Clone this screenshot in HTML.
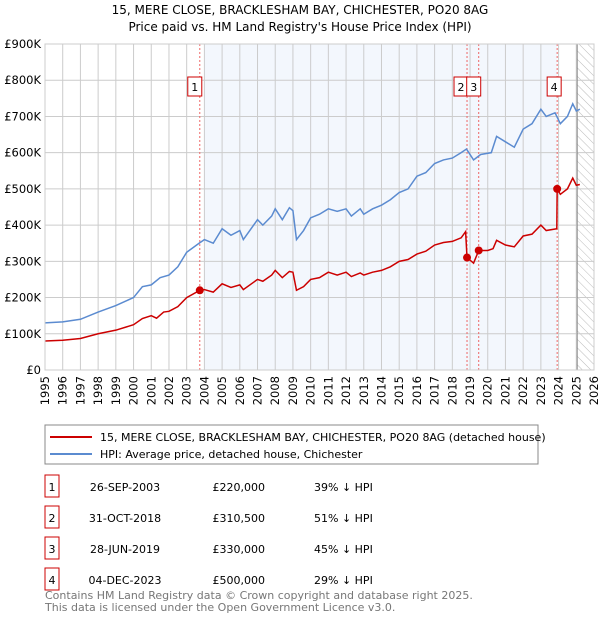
<!DOCTYPE html>
<html><head><meta charset="utf-8"><style>
body{margin:0;width:600px;height:620px;background:#fff;font-family:"Liberation Sans","DejaVu Sans",sans-serif;overflow:hidden}
svg text{font-family:"DejaVu Sans","Liberation Sans",sans-serif}
</style></head><body>
<svg id="c" width="600" height="620" xmlns="http://www.w3.org/2000/svg">
<defs><pattern id="hatch" width="6" height="6" patternUnits="userSpaceOnUse" patternTransform="rotate(-45)"><line x1="0" y1="0" x2="0" y2="6" stroke="#bbb" stroke-width="1"/></pattern></defs>
<text x="300" y="14" text-anchor="middle" font-size="12">15, MERE CLOSE, BRACKLESHAM BAY, CHICHESTER, PO20 8AG</text>
<text x="300" y="31" text-anchor="middle" font-size="12">Price paid vs. HM Land Registry's House Price Index (HPI)</text>
<g id="plot"></g>
<rect x="45" y="425" width="493" height="39" fill="none" stroke="#888"/>
<line x1="50" y1="437" x2="92" y2="437" stroke="#cc0000" stroke-width="2"/>
<text x="100" y="441" font-size="11">15, MERE CLOSE, BRACKLESHAM BAY, CHICHESTER, PO20 8AG (detached house)</text>
<line x1="50" y1="454" x2="92" y2="454" stroke="#5b8bd0" stroke-width="2"/>
<text x="100" y="458" font-size="11">HPI: Average price, detached house, Chichester</text>
<g id="table"></g>
<text x="45" y="599" font-size="11" fill="#777">Contains HM Land Registry data © Crown copyright and database right 2025.</text>
<text x="45" y="611" font-size="11" fill="#777">This data is licensed under the Open Government Licence v3.0.</text>
</svg>
<script>
const hpiYears=[1995,1996,1997,1998,1999,2000,2000.5,2001,2001.5,2002,2002.5,2003,2003.7,2004,2004.5,2005,2005.5,2006,2006.2,2007,2007.3,2007.8,2008,2008.4,2008.8,2009.0,2009.2,2009.6,2010,2010.5,2011,2011.5,2012,2012.3,2012.8,2013,2013.5,2014,2014.5,2015,2015.5,2016,2016.5,2017,2017.5,2018,2018.5,2018.8,2019.2,2019.6,2020.2,2020.5,2021,2021.5,2022,2022.5,2023,2023.3,2023.8,2024.1,2024.5,2024.8,2025.0,2025.2];
const hpiValues=[130,133,140,160,178,200,230,235,255,262,285,325,350,360,350,390,372,385,360,415,400,425,445,415,448,440,360,385,420,430,445,438,445,425,445,430,445,455,470,490,500,535,545,570,580,585,600,610,580,595,600,645,630,615,665,680,720,700,710,680,700,735,715,720];
const priceYears=[1995,1996,1997,1998,1999,2000,2000.5,2001,2001.3,2001.7,2002,2002.5,2003,2003.74,2004,2004.5,2005,2005.5,2006,2006.2,2007,2007.3,2007.8,2008,2008.4,2008.8,2009.0,2009.2,2009.6,2010,2010.5,2011,2011.5,2012,2012.3,2012.8,2013,2013.5,2014,2014.5,2015,2015.5,2016,2016.5,2017,2017.5,2018,2018.5,2018.75,2018.83,2019.2,2019.49,2020.0,2020.3,2020.5,2021,2021.5,2022,2022.5,2023,2023.3,2023.9,2023.92,2024.1,2024.5,2024.8,2025.0,2025.2];
const priceValues=[80,82,87,100,110,125,142,150,143,160,162,175,200,220,222,215,238,228,235,222,250,245,262,275,255,272,270,220,230,250,255,270,262,270,258,268,262,270,275,285,300,305,320,328,345,352,355,365,382,310.5,295,330,330,335,358,345,340,370,375,400,385,390,500,485,500,530,510,512];
const saleLabels=["1","2","3","4"];
const saleYears=[2003.74,2018.83,2019.49,2023.92];
const saleValues=[220,310.5,330,500];
const saleDates=["26-SEP-2003","31-OCT-2018","28-JUN-2019","04-DEC-2023"];
const salePrices=["£220,000","£310,500","£330,000","£500,000"];
const saleDiffs=["39% ↓ HPI","51% ↓ HPI","45% ↓ HPI","29% ↓ HPI"];
const yTicks=[0,100,200,300,400,500,600,700,800,900];
const yTickLabels=["£0","£100K","£200K","£300K","£400K","£500K","£600K","£700K","£800K","£900K"];
const xTicks=[1995,1996,1997,1998,1999,2000,2001,2002,2003,2004,2005,2006,2007,2008,2009,2010,2011,2012,2013,2014,2015,2016,2017,2018,2019,2020,2021,2022,2023,2024,2025,2026];

const X0=45,X1=594,Y0=370,Y1=44;
const x=v=>X0+(v-1995)/(2026-1995)*(X1-X0);
const y=v=>Y0-v/900*(Y0-Y1);
const NS="http://www.w3.org/2000/svg";
const plot=document.getElementById('plot');
function mk(tag,attrs,parent){const e=document.createElementNS(NS,tag);for(const k in attrs)e.setAttribute(k,attrs[k]);(parent||plot).appendChild(e);return e;}

let r=mk('rect',{x:x(2004),y:Y1,width:x(2023.92)-x(2004),height:Y0-Y1,fill:'#eef3fc',opacity:0.7});


r=mk('rect',{x:x(2025.0),y:Y1,width:X1-x(2025.0),height:Y0-Y1,fill:'url(#hatch)'});


yTicks.forEach((t,i)=>{
  let l=mk('line',{x1:X0,x2:X1,y1:y(t),y2:y(t),stroke:'#ccc'});
  
  
  let tx=mk('text',{x:X0-4,y:y(t)+4,'text-anchor':'end','font-size':11.5});
  tx.textContent=yTickLabels[i];
  
  
});
xTicks.forEach(t=>{
  let l=mk('line',{x1:x(t),x2:x(t),y1:Y1,y2:Y0,stroke:'#ccc'});
  
  
  let tx=mk('text',{x:0,y:0,'font-size':11.5,'text-anchor':'end',transform:`translate(${x(t)+4},${Y0+6}) rotate(-90)`});
  tx.textContent=t;
  
  
});
let bl=mk('line',{x1:x(2025.05),x2:x(2025.05),y1:Y1,y2:Y0,stroke:'#888'});


saleYears.forEach(s=>{
  let l=mk('line',{x1:x(s),x2:x(s),y1:Y1,y2:Y0,stroke:'#e66','stroke-dasharray':'2,2'});
  
  
});
let hp=mk('polyline',{points:hpiYears.map((v,i)=>x(v)+','+y(hpiValues[i])).join(' '),fill:'none',stroke:'#5b8bd0','stroke-width':1.5});


let pp=mk('polyline',{points:priceYears.map((v,i)=>x(v)+','+y(priceValues[i])).join(' '),fill:'none',stroke:'#cc0000','stroke-width':1.5});


let bd=mk('rect',{x:X0,y:Y1,width:X1-X0,height:Y0-Y1,fill:'none',stroke:'#ccc'});


const boxOff=[-5,-6,-5,-3];
saleYears.forEach((s,i)=>{
  let c=mk('circle',{cx:x(s),cy:y(saleValues[i]),r:4,fill:'#cc0000'});
  
  
  let off=boxOff[i];
  let bx=mk('rect',{x:x(s)+off-7,y:77,width:14,height:19,fill:'#fff',stroke:'#cc0000'});
  
  
  let t=mk('text',{x:x(s)+off,y:91,'text-anchor':'middle','font-size':11});
  t.textContent=saleLabels[i];
  
  
});
const tb=document.getElementById('table');
saleLabels.forEach((lab,i)=>{
  const cy=487+i*31;
  let b=mk('rect',{x:45,y:cy-12,width:14,height:22,fill:'none',stroke:'#cc0000'},tb);
  
  
  const cols=[[52,lab,'middle'],[125,saleDates[i],'middle'],[265,salePrices[i],'end'],[314,saleDiffs[i],'start']];
  cols.forEach(([cx,txt,an],j)=>{
    let t=mk('text',{x:cx,y:cy+4,'text-anchor':an,'font-size':11},tb);
    t.textContent=txt;
    
    
  });
});
</script>
</body></html>
